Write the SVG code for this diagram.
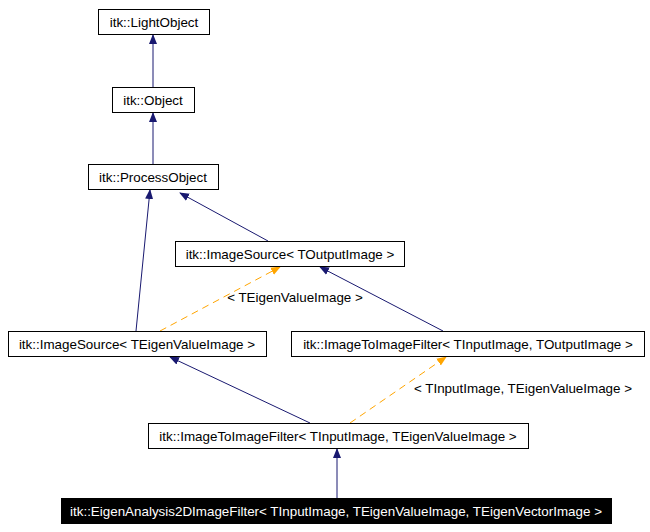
<svg xmlns="http://www.w3.org/2000/svg" width="650" height="532" viewBox="0 0 650 532">
<style>
.n rect{fill:#fff;stroke:#000;stroke-width:1}
text{font-family:"Liberation Sans",Arial,sans-serif;font-size:13.4px;text-anchor:middle}
.e{stroke:#191970;fill:none;stroke-width:1}
.t{stroke:#ffa500;fill:none;stroke-dasharray:7,5;stroke-width:1}
</style>
<defs>
<marker id="a" markerWidth="10" markerHeight="10" refX="9" refY="5" orient="auto" markerUnits="userSpaceOnUse"><path d="M0,1L10,5L0,9z" fill="#191970"/></marker>
<marker id="o" markerWidth="10" markerHeight="10" refX="9" refY="5" orient="auto" markerUnits="userSpaceOnUse"><path d="M0,1L10,5L0,9z" fill="#ffa500"/></marker>
</defs>
<rect width="650" height="532" fill="#fff"/>
<g id="connectors">
<path class="e" d="M153,87V35" marker-end="url(#a)"/>
<path class="e" d="M153,164V113" marker-end="url(#a)"/>
<path class="e" d="M268,241L180,193" marker-end="url(#a)"/>
<path class="e" d="M136,331L150,190" marker-end="url(#a)"/>
<path class="t" d="M160,331L280,267" marker-end="url(#o)"/>
<text x="295" y="302">&lt; TEigenValueImage &gt;</text>
<path class="e" d="M443,331L320,267" marker-end="url(#a)"/>
<path class="e" d="M310,423L170,357" marker-end="url(#a)"/>
<path class="t" d="M350,423L446,357" marker-end="url(#o)"/>
<text x="523" y="393">&lt; TInputImage, TEigenValueImage &gt;</text>
<path class="e" d="M337,498V449" marker-end="url(#a)"/>
</g>
<g id="lightobject" class="n"><rect x="98.5" y="9.5" width="111" height="25"/><text x="154" y="26.5">itk::LightObject</text></g>
<g id="object" class="n"><rect x="112.5" y="87.5" width="82" height="25"/><text x="153" y="104.5">itk::Object</text></g>
<g id="processobject" class="n"><rect x="88.5" y="164.5" width="130" height="25"/><text x="153" y="181.5">itk::ProcessObject</text></g>
<g id="imagesource_out" class="n"><rect x="175.5" y="241.5" width="229" height="25"/><text x="290" y="258.5">itk::ImageSource&lt; TOutputImage &gt;</text></g>
<g id="imagesource_eigen" class="n"><rect x="8.5" y="331.5" width="258" height="25"/><text x="137" y="348.5">itk::ImageSource&lt; TEigenValueImage &gt;</text></g>
<g id="itif_out" class="n"><rect x="291.5" y="331.5" width="353" height="25"/><text x="468" y="348.5">itk::ImageToImageFilter&lt; TInputImage, TOutputImage &gt;</text></g>
<g id="itif_eigen" class="n"><rect x="148.5" y="423.5" width="380" height="25"/><text x="338" y="440.5">itk::ImageToImageFilter&lt; TInputImage, TEigenValueImage &gt;</text></g>
<g id="eigenanalysis"><rect x="61.5" y="498.5" width="550" height="25" fill="#000" stroke="#000"/><text x="336" y="515.5" fill="#fff">itk::EigenAnalysis2DImageFilter&lt; TInputImage, TEigenValueImage, TEigenVectorImage &gt;</text></g>
</svg>
